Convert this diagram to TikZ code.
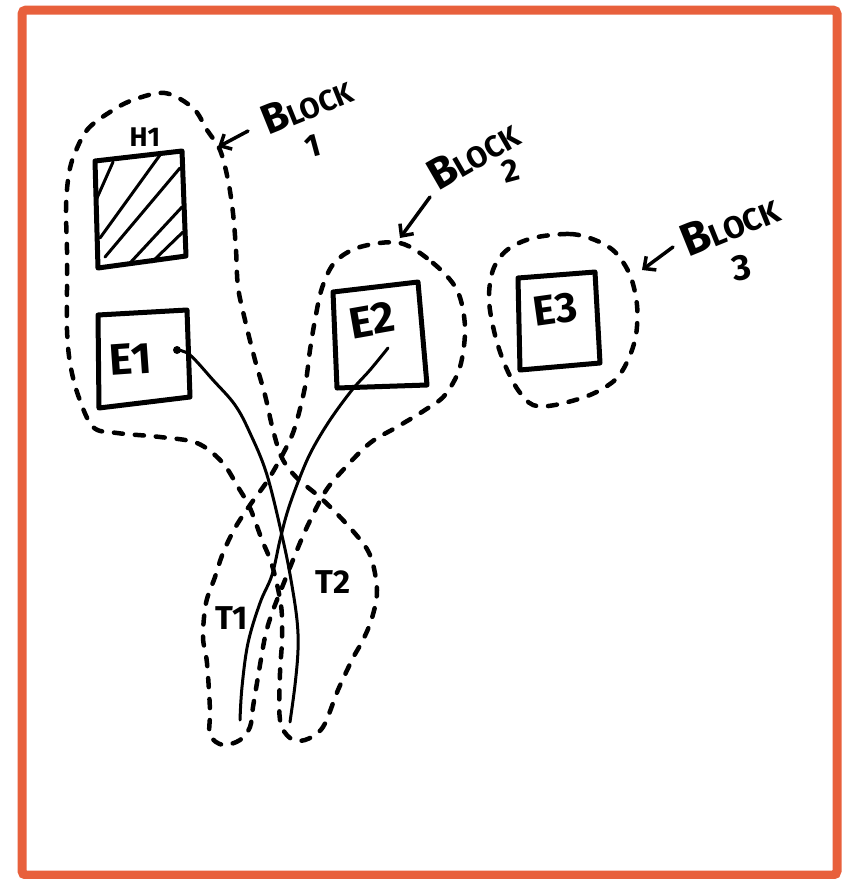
\documentclass[tikz,border=0pt]{standalone}
\usepackage{fontspec}
\setmainfont{Fira Sans}
\usetikzlibrary{arrows.meta}
\definecolor{framecol}{RGB}{232,96,60}
\tikzset{
  frame/.style={draw=framecol, line width=9pt, rounded corners=4pt},
  box/.style={line width=5pt, line join=round, line cap=round},
  hatchline/.style={line width=3pt, line cap=round},
  wire/.style={line width=3pt, line cap=round},
  blockline/.style={line width=4.5pt, line cap=round, dash pattern=on 9pt off 12pt},
  hand/.style={font=\bfseries, inner sep=0pt},
  pointer/.style={line width=3.5pt, line cap=round,
    -{Straight Barb[length=9pt,width=17pt,line width=3.5pt]}},
}
\begin{document}
\begin{tikzpicture}[x=1pt,y=-1pt]
\useasboundingbox (0,0) rectangle (846,879);
\fill[white] (0,0) rectangle (846,879);
\draw[frame] (22,10) rectangle (837,875);

% ---- H1 (hatched) ----
\coordinate (h1a) at (95,161);
\coordinate (h1b) at (182,151);
\coordinate (h1c) at (186,256);
\coordinate (h1d) at (98,268);
\draw[box] (h1a) -- (h1b) -- (h1c) -- (h1d) -- cycle;
\draw[hatchline] (97,198) -- (113,162);
\draw[hatchline] (100,238) -- (160,155);
\draw[hatchline] (105,257) -- (180,168);
\draw[hatchline] (130,263) -- (182,207);
\draw[hatchline] (152,262) -- (183,232);
\node[hand, font=\bfseries\fontsize{27}{27}\selectfont] (h1lbl) at (145,137) {H1};

% ---- E1 ----
\coordinate (e1a) at (98,315);
\coordinate (e1b) at (187,310);
\coordinate (e1c) at (190,397);
\coordinate (e1d) at (99,408);
\draw[box] (e1a) -- (e1b) -- (e1c) -- (e1d) -- cycle;
\node[hand, font=\bfseries\fontsize{44}{44}\selectfont, rotate=4] (e1lbl) at (131,359) {E1};

% ---- E2 ----
\coordinate (e2a) at (333,292);
\coordinate (e2b) at (418,282);
\coordinate (e2c) at (427,385);
\coordinate (e2d) at (337,388);
\draw[box] (e2a) -- (e2b) -- (e2c) -- (e2d) -- cycle;
\node[hand, font=\bfseries\fontsize{44}{44}\selectfont, rotate=10] (e2lbl) at (372,320) {E2};

% ---- E3 ----
\coordinate (e3a) at (518,278);
\coordinate (e3b) at (595,272);
\coordinate (e3c) at (600,363);
\coordinate (e3d) at (520,370);
\draw[box] (e3a) -- (e3b) -- (e3c) -- (e3d) -- cycle;
\node[hand, font=\bfseries\fontsize{42}{42}\selectfont, rotate=8] (e3lbl) at (555,309) {E3};

% ---- T labels ----
\node[hand, font=\bfseries\fontsize{33}{33}\selectfont] (t1lbl) at (232,618) {T1};
\node[hand, font=\bfseries\fontsize{33}{33}\selectfont] (t2lbl) at (333,582) {T2};

% ---- wires ----
\coordinate (e1tap) at (177,350);
\coordinate (t2end) at (290,722);
\coordinate (e2tap) at (388,348);
\coordinate (t1end) at (240,720);
\fill (e1tap) circle (4pt);
\draw[wire] plot[smooth, tension=0.6] coordinates {(e1tap) (190,355) (213,380) (235,405)
  (250,433) (267,475) (283,540) (291,580) (297,620) (298,650) (295,685) (t2end)};
\draw[wire] plot[smooth, tension=0.6] coordinates {(e2tap) (370,370) (352,390) (330,420)
  (312,450) (300,477) (288,510) (280,540) (272,575) (260,603) (248,643) (242,687) (t1end)};

% ---- Block 1 outline ----
\draw[blockline] plot[smooth cycle, tension=0.55] coordinates {
  (73,158) (87,130) (110,112) (133,100) (165,93) (193,108) (207,130) (220,150)
  (228,180) (233,213) (236,250) (238,287) (245,320) (255,360) (265,395) (273,430)
  (282,458) (297,478) (323,500) (352,530) (370,555) (377,590) (372,618) (363,640)
  (353,658) (338,690) (323,727) (305,740) (290,738) (280,720) (280,673) (282,640)
  (281,605) (272,565) (262,540) (250,508) (238,487) (222,462) (197,443) (160,437)
  (117,433) (93,427) (78,395) (70,363) (67,330) (67,290) (67,250) (66,210) (68,180)};

% ---- Block 2 outline ----
\draw[blockline] plot[smooth cycle, tension=0.55] coordinates {
  (400,243) (433,263) (457,290) (465,327) (460,367) (445,395) (425,410) (397,427)
  (370,443) (343,470) (325,492) (307,527) (295,555) (283,585) (272,613) (265,637)
  (258,677) (253,707) (250,727) (240,740) (223,745) (210,735) (210,710) (207,663)
  (203,637) (206,603) (215,577) (223,553) (235,528) (250,505) (268,480) (285,450)
  (295,427) (305,387) (310,350) (315,320) (322,288) (335,262) (360,247)};

% ---- Block 3 outline ----
\draw[blockline] plot[smooth cycle, tension=0.55] coordinates {
  (533,238) (570,234) (595,240) (615,252) (630,275) (637,305) (636,335) (628,360)
  (615,380) (590,395) (555,405) (533,405) (518,390) (505,365) (495,335) (489,300)
  (493,270) (507,250)};

% ---- block captions and pointers ----
\node[hand, anchor=base west, rotate=22, font=\bfseries\fontsize{42}{42}\selectfont]
  (b1lbl) at (268,136) {B{\fontsize{29}{29}\selectfont LOCK}};
\node[hand, font=\bfseries\fontsize{32}{32}\selectfont, rotate=15] (b1num) at (313,146) {1};
\coordinate (b1tail) at (248,131);
\coordinate (b1tip) at (218,147);
\draw[pointer] (b1tail) -- (b1tip);

\node[hand, anchor=base west, rotate=30, font=\bfseries\fontsize{44}{44}\selectfont]
  (b2lbl) at (438,192) {B{\fontsize{30}{30}\selectfont LOCK}};
\node[hand, font=\bfseries\fontsize{32}{32}\selectfont, rotate=15] (b2num) at (511,171) {2};
\coordinate (b2tail) at (430,197);
\coordinate (b2tip) at (400,238);
\draw[pointer] (b2tail) -- (b2tip);

\node[hand, anchor=base west, rotate=22, font=\bfseries\fontsize{46}{46}\selectfont]
  (b3lbl) at (688,258) {B{\fontsize{31}{31}\selectfont LOCK}};
\node[hand, font=\bfseries\fontsize{36}{36}\selectfont, rotate=10] (b3num) at (742,268) {3};
\coordinate (b3tail) at (673,247);
\coordinate (b3tip) at (642,270);
\draw[pointer] (b3tail) -- (b3tip);
\end{tikzpicture}
\end{document}
